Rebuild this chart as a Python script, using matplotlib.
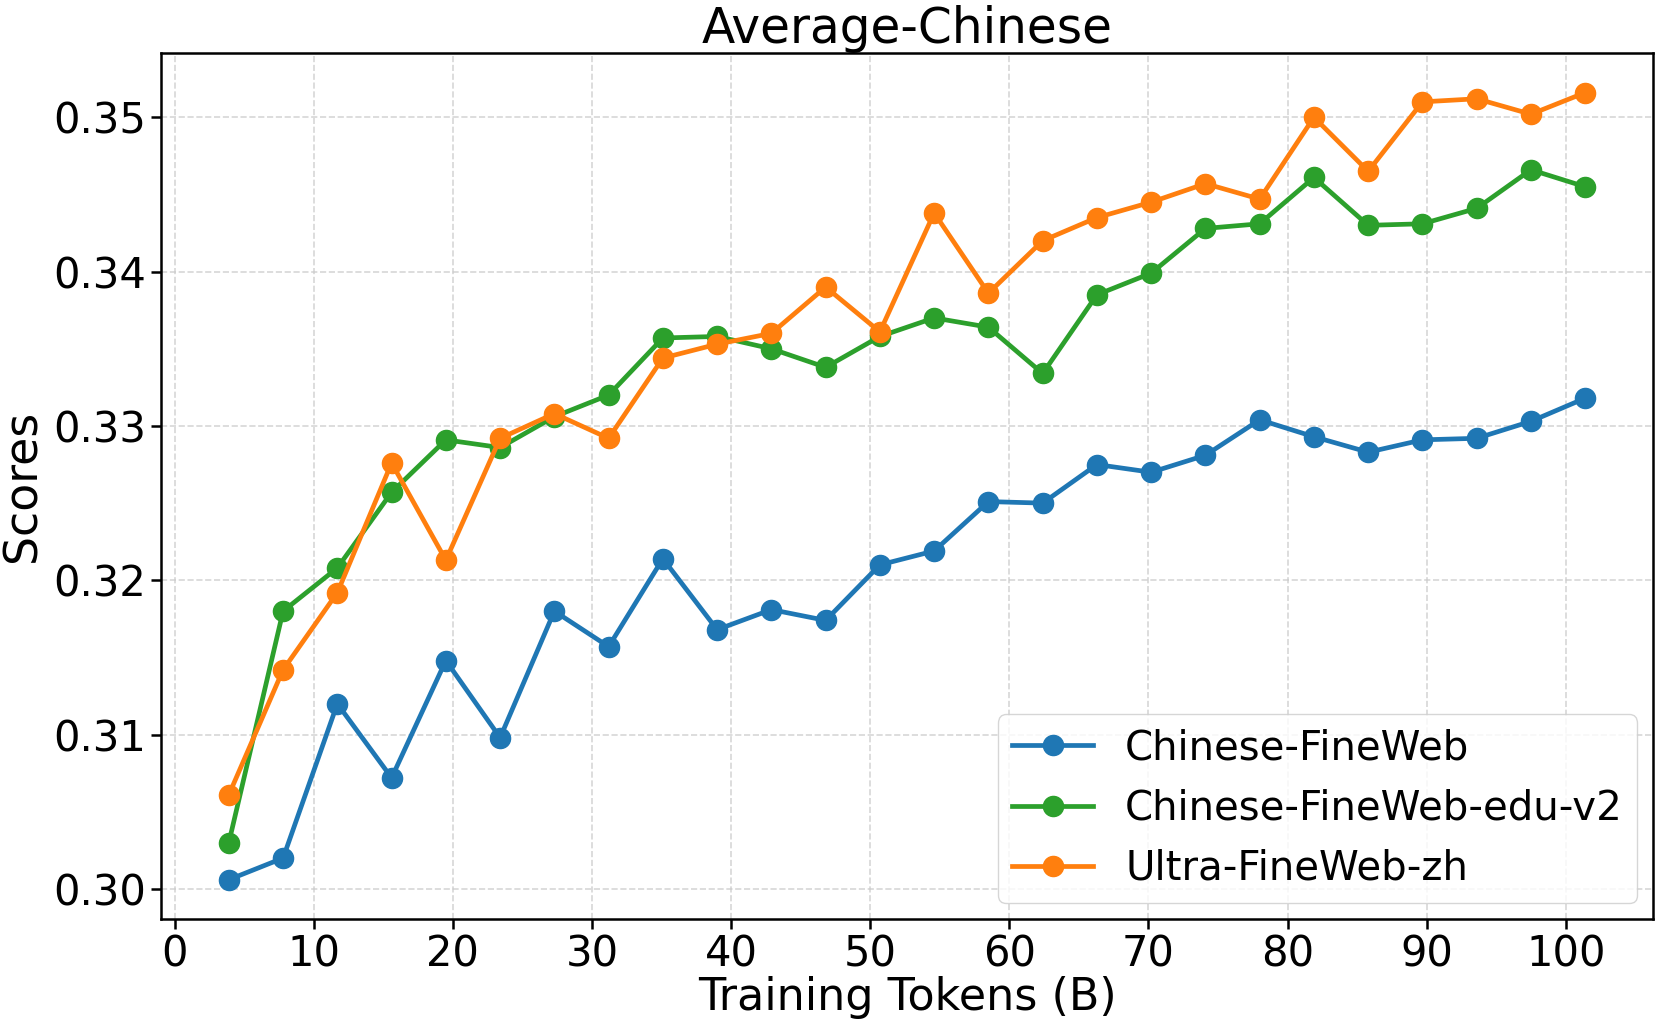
import matplotlib
matplotlib.use("Agg")
import matplotlib.pyplot as plt

tokens = [3.9, 7.8, 11.7, 15.6, 19.5, 23.4, 27.3, 31.2, 35.1, 39.0, 42.9, 46.8, 50.7,
          54.6, 58.5, 62.4, 66.3, 70.2, 74.1, 78.0, 81.9, 85.8, 89.7, 93.6, 97.5, 101.4]

chinese_fineweb = [0.3006, 0.3020, 0.3120, 0.3072, 0.3148, 0.3098, 0.3180, 0.3157, 0.3214,
                   0.3168, 0.3181, 0.3174, 0.3210, 0.3219, 0.3251, 0.3250, 0.3275, 0.3270,
                   0.3281, 0.3304, 0.3293, 0.3283, 0.3291, 0.3292, 0.3303, 0.3318]

chinese_fineweb_edu_v2 = [0.3030, 0.3180, 0.3208, 0.3257, 0.3291, 0.3286, 0.3306, 0.3320,
                          0.3357, 0.3358, 0.3350, 0.3338, 0.3358, 0.3370, 0.3364, 0.3334,
                          0.3385, 0.3399, 0.3428, 0.3431, 0.3461, 0.3430, 0.3431, 0.3441,
                          0.3466, 0.3455]

ultra_fineweb_zh = [0.3061, 0.3142, 0.3192, 0.3276, 0.3213, 0.3292, 0.3308, 0.3292, 0.3344,
                    0.3353, 0.3360, 0.3390, 0.3361, 0.3438, 0.3386, 0.3420, 0.3435, 0.3445,
                    0.3457, 0.3447, 0.3500, 0.3465, 0.3510, 0.3512, 0.3502, 0.3516]

series_names = ["Chinese-FineWeb", "Chinese-FineWeb-edu-v2", "Ultra-FineWeb-zh"]
series_values = [chinese_fineweb, chinese_fineweb_edu_v2, ultra_fineweb_zh]
colors = ["#1f77b4", "#2ca02c", "#ff7f0e"]
yticks = [0.30, 0.31, 0.32, 0.33, 0.34, 0.35]
xticks = [0, 10, 20, 30, 40, 50, 60, 70, 80, 90, 100]

fig = plt.figure(figsize=(16.6, 10.24), dpi=100)
ax = fig.add_axes([0.097, 0.1025, 0.8988, 0.8455])

for name, vals, c in zip(series_names, series_values, colors):
    ax.plot(tokens, vals, marker="o", color=c, linewidth=3.4, markersize=14.5, label=name)

ax.set_yticks(yticks)
ax.set_yticklabels([f"{v:.2f}" for v in yticks])
ax.set_xticks(xticks)
ax.tick_params(axis="both", labelsize=30, width=1.8, length=7)
for s in ax.spines.values():
    s.set_linewidth(1.8)
ax.grid(True, linestyle="--", color="#cccccc", linewidth=1.2, alpha=0.8)
ax.set_title("Average-Chinese", fontsize=35, pad=4)
ax.set_xlabel("Training Tokens (B)", fontsize=32, labelpad=0)
ax.set_ylabel("Scores", fontsize=33, labelpad=6)
leg = ax.legend(loc="lower right", fontsize=29, framealpha=0.8, borderpad=0.35,
                handlelength=2.0, borderaxespad=0.4)

fig.savefig("out.png", dpi=100)
